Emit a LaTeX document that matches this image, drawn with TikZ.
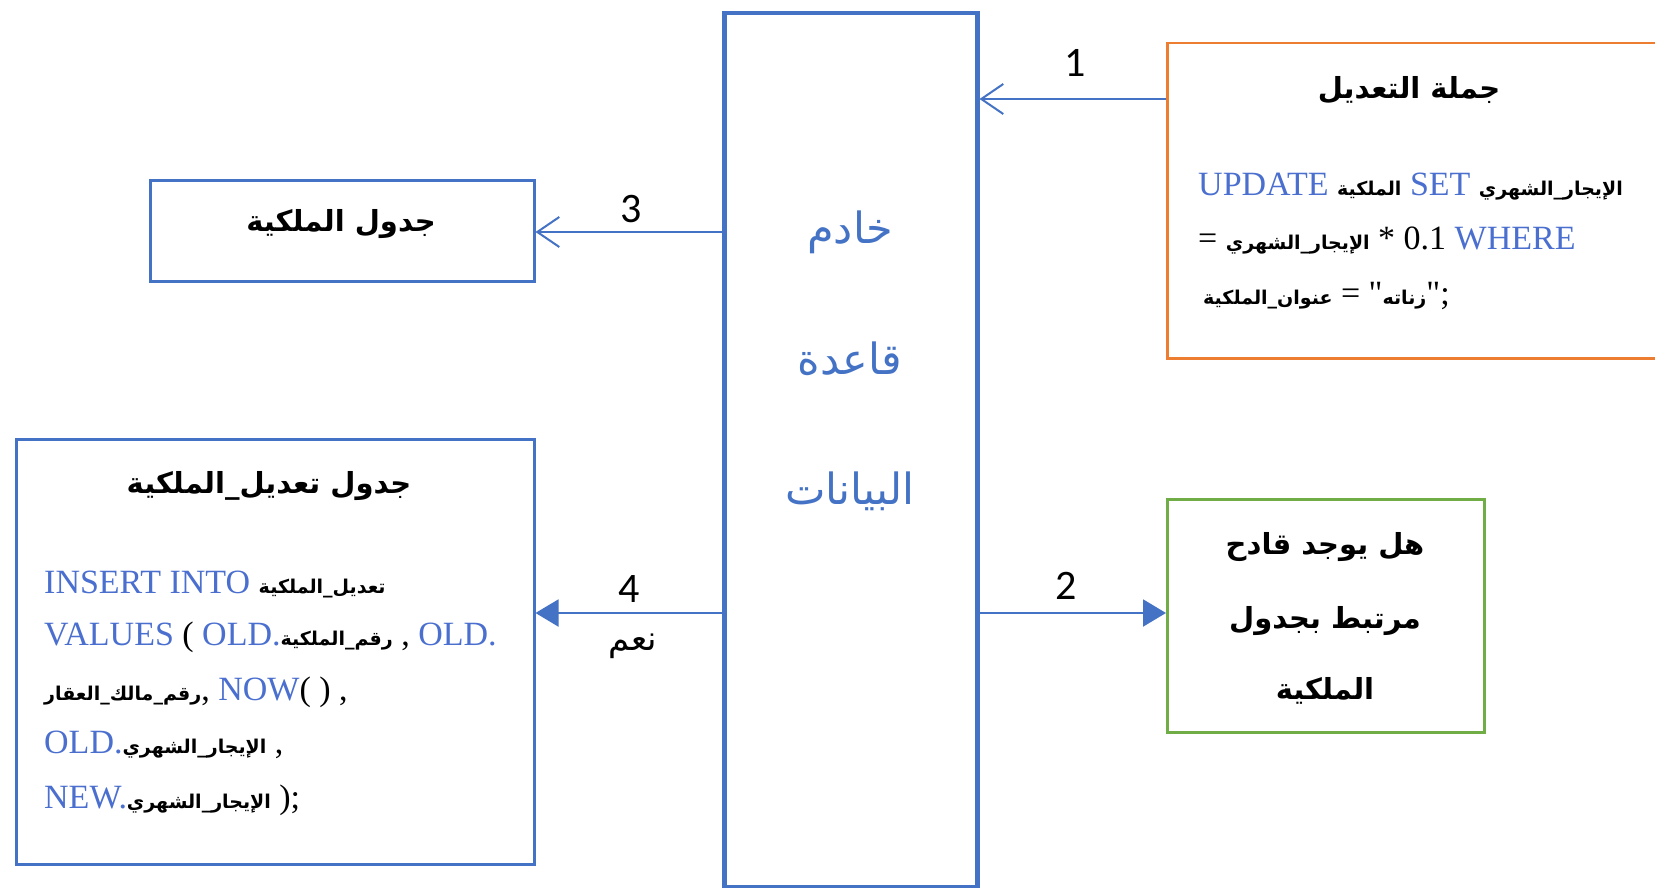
\documentclass[tikz,border=0pt]{standalone}
\usepackage{fontspec}
\setmainfont{Liberation Serif}
\newfontfamily\rawserif[Ligatures=TeXOff]{Liberation Serif}
\newfontfamily\arabicfont[Script=Arabic]{DejaVu Sans}
\newfontfamily\digitfont{Carlito}
\TeXXeTstate=1
\usetikzlibrary{arrows.meta}
\definecolor{boxblue}{HTML}{4472C4}
\definecolor{boxorange}{HTML}{ED7D31}
\definecolor{boxgreen}{HTML}{70AD47}
\definecolor{sqlblue}{HTML}{4A6FCF}
\newcommand{\ar}[1]{{\arabicfont\bfseries\fontsize{19}{24}\selectfont\beginR #1\endR}}
\newcommand{\kw}[1]{{\color{sqlblue}#1}}
\newcommand{\qt}{{\rawserif\symbol{34}}}
\tikzset{
  frame/.style={rectangle, inner sep=0pt, anchor=north west, line width=2.5pt},
  title/.style={inner sep=0pt, font=\arabicfont\bfseries\fontsize{29}{34}\selectfont},
  sql/.style={inner sep=0pt, anchor=base west, font=\fontsize{34}{40}\selectfont},
  num/.style={inner sep=0pt, font=\digitfont\fontsize{42}{48}\selectfont},
  servertext/.style={inner sep=0pt, text=boxblue, font=\arabicfont\fontsize{43}{50}\selectfont},
  openarrow/.style={draw=boxblue, line width=2pt, -{Straight Barb[length=22pt,width=30pt,line width=2pt]}},
  fillarrow/.style={draw=boxblue, line width=2pt, -{Triangle[length=23pt,width=27pt]}, fill=boxblue},
}
\begin{document}
\begin{tikzpicture}[x=1pt,y=-1pt]
\useasboundingbox (0,0) rectangle (1655,888);
% boxes
\node[frame, draw=boxblue, line width=4.5pt, minimum width=253pt, minimum height=874pt] (server) at (722,11) {};
\node[frame, draw=boxorange, minimum width=560pt, minimum height=315pt] (stmt) at (1166,42) {};
\node[frame, draw=boxblue, minimum width=384pt, minimum height=101pt] (tbl) at (149,179) {};
\node[frame, draw=boxblue, minimum width=518pt, minimum height=425pt] (audit) at (15,438) {};
\node[frame, draw=boxgreen, minimum width=317pt, minimum height=233pt] (trig) at (1166,498) {};
% server text
\node[servertext] (s1) at (850,232) {\beginR خادم\endR};
\node[servertext] (s2) at (850,359) {\beginR قاعدة\endR};
\node[servertext] (s3) at (850,491) {\beginR البيانات\endR};
% statement box
\node[title] (stmttitle) at (1409,90) {\beginR جملة التعديل\endR};
\node[sql] (st1) at (1198,196) {\kw{UPDATE} \ar{الملكية} \kw{SET} \ar{الإيجار\_الشهري}};
\node[sql] (st2) at (1198,249) {= \ar{الإيجار\_الشهري} * 0.1 \kw{WHERE}};
\node[sql] (st3) at (1203,304) {\ar{عنوان\_الملكية} = \qt\ar{زناته}\qt;};
% table box
\node[title] (tbltitle) at (341,224) {\beginR جدول الملكية\endR};
% audit box
\node[title] (audittitle) at (269,486) {\beginR جدول تعديل\_الملكية\endR};
\node[sql] (a1) at (44,593) {\kw{INSERT INTO} \ar{تعديل\_الملكية}};
\node[sql] (a2) at (44,645) {\kw{VALUES} ( \kw{OLD.}\ar{رقم\_الملكية} , \kw{OLD.}};
\node[sql] (a3) at (44,700) {\ar{رقم\_مالك\_العقار}, \kw{NOW}( ) ,};
\node[sql] (a4) at (44,753) {\kw{OLD.}\ar{الإيجار\_الشهري} ,};
\node[sql] (a5) at (44,808) {\kw{NEW.}\ar{الإيجار\_الشهري} );};
% trigger box
\node[title] (g1) at (1325,547) {\beginR هل يوجد قادح\endR};
\node[title] (g2) at (1325,621) {\beginR مرتبط بجدول\endR};
\node[title] (g3) at (1325,691) {\beginR الملكية\endR};
% connectors
\coordinate (y1) at (0,99);
\coordinate (y3) at (0,232);
\coordinate (y24) at (0,613);
\draw[openarrow] (stmt.west |- y1) -- (server.east |- y1);
\draw[openarrow] (server.west |- y3) -- (tbl.east |- y3);
\draw[fillarrow] (server.east |- y24) -- (trig.west |- y24);
\draw[fillarrow] (server.west |- y24) -- (audit.east |- y24);
% labels
\node[num] (n1) at (1075,63) {1};
\node[num] (n3) at (631,209) {3};
\node[num] (n2) at (1066,586) {2};
\node[num] (n4) at (629,589) {4};
\node[inner sep=0pt, font=\arabicfont\fontsize{34}{40}\selectfont] (yes) at (633,646) {\beginR نعم\endR};
\end{tikzpicture}
\end{document}
